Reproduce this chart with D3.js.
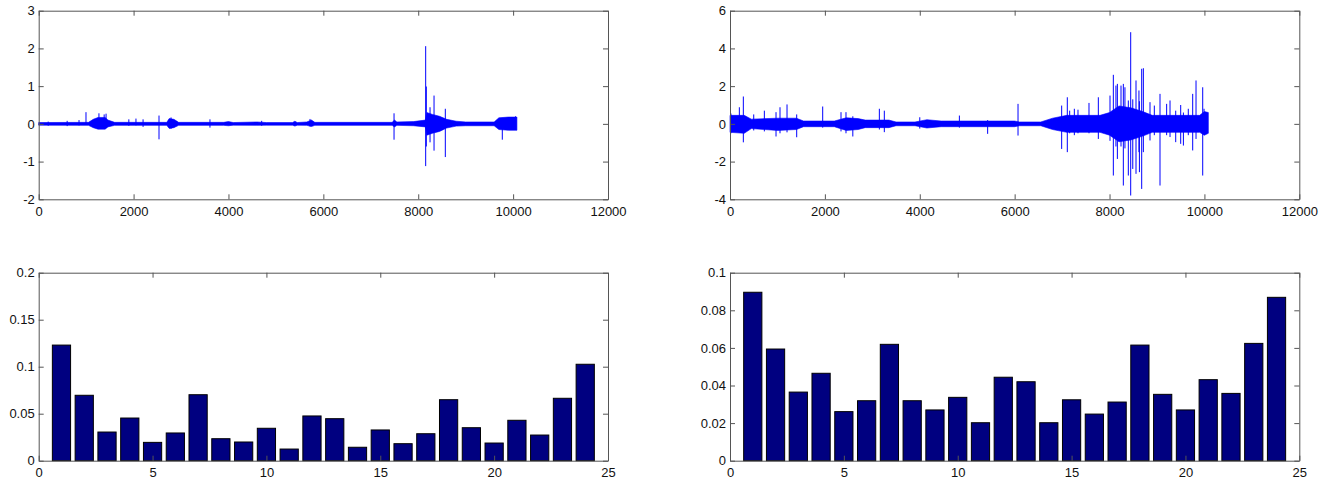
<!DOCTYPE html>
<html>
<head>
<meta charset="utf-8">
<script src="https://cdn.jsdelivr.net/npm/d3@7"></script>
<style>
  body { margin: 0; background: #fff; }
  svg { display: block; }
  .axis text { font: 13px "Liberation Sans", Arial, sans-serif; fill: #111; }
  .axis path, .axis line { stroke: #555; }
</style>
</head>
<body>
<svg id="chart" width="1330" height="481"></svg>
<script>
// ---- data ----

// envelope of the dense noise: [sample, high, low]
const envLeft = [
  [0, 0.035, -0.035], [1050, 0.04, -0.04], [1150, 0.12, -0.1], [1250, 0.17, -0.14],
  [1400, 0.17, -0.14], [1460, 0.1, -0.08], [1600, 0.04, -0.04], [2700, 0.04, -0.04],
  [2750, 0.14, -0.12], [2850, 0.12, -0.1], [2950, 0.04, -0.04], [3900, 0.04, -0.04],
  [4000, 0.06, -0.05], [4100, 0.035, -0.035], [4600, 0.05, -0.04], [4800, 0.035, -0.035],
  [5350, 0.035, -0.035], [5400, 0.07, -0.06], [5450, 0.035, -0.035], [5650, 0.05, -0.04],
  [5750, 0.1, -0.07], [5820, 0.04, -0.04], [7450, 0.04, -0.04], [7500, 0.1, -0.08],
  [7550, 0.05, -0.04], [7900, 0.06, -0.05], [8150, 0.1, -0.08], [8180, 0.3, -0.3],
  [8300, 0.25, -0.25], [8450, 0.2, -0.2], [8600, 0.12, -0.11], [8800, 0.07, -0.06],
  [9000, 0.05, -0.05], [9600, 0.05, -0.05], [9700, 0.16, -0.15], [9900, 0.18, -0.17],
  [10080, 0.18, -0.17]
];
const envRight = [
  [0, 0.45, -0.45], [300, 0.45, -0.5], [450, 0.25, -0.25], [1000, 0.3, -0.35],
  [1400, 0.3, -0.3], [1550, 0.15, -0.15], [2200, 0.15, -0.15], [2450, 0.32, -0.35],
  [2700, 0.28, -0.3], [2850, 0.2, -0.2], [3350, 0.2, -0.2], [3500, 0.1, -0.1],
  [3900, 0.1, -0.1], [4150, 0.22, -0.22], [4450, 0.15, -0.15], [6000, 0.15, -0.15],
  [6100, 0.1, -0.1], [6550, 0.1, -0.1], [6800, 0.3, -0.3], [7100, 0.45, -0.45],
  [7800, 0.45, -0.45], [8000, 0.6, -0.6], [8200, 0.95, -0.95], [8450, 0.85, -0.85],
  [8700, 0.65, -0.65], [8900, 0.45, -0.45], [9500, 0.45, -0.45], [9900, 0.45, -0.45],
  [10000, 0.65, -0.6], [10083, 0.6, -0.5]
];

// single spikes: [sample, high, low]
const spikesLeft = [
  [200, 0.06, -0.05], [600, 0.08, -0.06], [850, 0.1, -0.04], [997, 0.31, -0.03],
  [1270, 0.28, -0.1], [1380, 0.25, -0.12], [1420, 0.27, -0.08], [1900, 0.12, -0.05],
  [2050, 0.14, -0.04], [2200, 0.12, -0.08], [2536, 0.22, -0.41], [2790, 0.17, -0.13],
  [3610, 0.12, -0.1], [4700, 0.08, -0.05], [5719, 0.13, -0.07], [7490, 0.28, -0.42],
  [8157, 2.06, -1.12], [8170, 0.99, -0.6], [8249, 0.44, -0.49], [8333, 0.75, -0.71],
  [8571, 0.4, -0.88], [9772, 0.15, -0.42], [10050, 0.2, -0.15]
];
const spikesRight = [
  [20, 0.55, -0.5], [197, 0.88, -0.4], [281, 1.45, -0.98], [500, 0.5, -0.35],
  [724, 0.7, -0.4], [970, 0.62, -0.67], [1054, 0.88, -0.5], [1202, 1.03, -0.45],
  [1406, 0.5, -0.71], [1954, 0.92, -0.2], [2340, 0.62, -0.4], [2445, 0.62, -0.5],
  [2589, 0.4, -0.67], [3148, 0.8, -0.3], [3253, 0.7, -0.44], [4000, 0.35, -0.25],
  [4835, 0.44, -0.2], [5431, 0.2, -0.53], [6071, 1.06, -0.62], [6991, 0.97, -1.33],
  [7110, 1.41, -1.5], [7160, 0.7, -0.5], [7258, 0.8, -0.6], [7335, 0.75, -0.5],
  [7567, 1.11, -0.5], [7764, 1.41, -0.8], [8010, 1.5, -0.9], [8080, 2.6, -2.74],
  [8135, 2.03, -1.2], [8165, 2.12, -1.86], [8242, 2.03, -1.2], [8291, 2.12, -3.27],
  [8325, 1.94, -1.3], [8396, 1.24, -2.74], [8446, 4.86, -3.8], [8490, 1.3, -2.39],
  [8558, 2.3, -2.65], [8620, 1.77, -1.5], [8630, 1.2, -2.56], [8678, 2.92, -3.45],
  [8713, 2.95, -1.5], [8853, 1.15, -0.88], [8944, 0.97, -0.6], [9064, 1.59, -3.27],
  [9204, 1.06, -0.6], [9275, 1.24, -0.7], [9395, 0.7, -0.97], [9500, 1.0, -1.06],
  [9557, 0.6, -1.15], [9660, 0.8, -0.6], [9753, 1.59, -1.41], [9823, 2.3, -0.8],
  [9964, 1.94, -2.74], [9992, 0.8, -0.6]
];

// bar charts: 24 bins
const bins = d3.range(1, 25);
const barsLeft = [0.123, 0.0696, 0.0305, 0.0454, 0.0195, 0.0295, 0.0702, 0.0234,
  0.0199, 0.0345, 0.0124, 0.0476, 0.0447, 0.0143, 0.0327, 0.0181,
  0.0287, 0.0649, 0.0351, 0.0188, 0.043, 0.0273, 0.0664, 0.1026];
const barsRight = [0.0896, 0.0594, 0.0365, 0.0465, 0.0261, 0.0319, 0.0619, 0.0319,
  0.027, 0.0337, 0.0202, 0.0444, 0.042, 0.0202, 0.0324, 0.0248,
  0.0312, 0.0615, 0.0353, 0.027, 0.0431, 0.0358, 0.0624, 0.0869];

// ticks
const sigXTicks = [0, 2000, 4000, 6000, 8000, 10000, 12000];
const leftYTicks = [-2, -1, 0, 1, 2, 3];
const rightYTicks = [-4, -2, 0, 2, 4, 6];
const barXTicks = [0, 5, 10, 15, 20, 25];
const barLeftYTicks = [0, 0.05, 0.1, 0.15, 0.2];
const barLeftYLabels = ['0', '0.05', '0.1', '0.15', '0.2'];
const barRightYTicks = [0, 0.02, 0.04, 0.06, 0.08, 0.1];
const barRightYLabels = ['0', '0.02', '0.04', '0.06', '0.08', '0.1'];

// ---- layout ----
const svg = d3.select('#chart');
const cols = [[38.7, 608], [730, 1299.3]];
const rows = [[10.7, 199.3], [272.7, 460.7]];
const blue = '#0000ff';
const navy = '#000080';
const plain = d => String(d); // hyphen minus, like the original

function frame(g, x, y, xTicks, yTicks, yLabels) {
  const [x0, x1] = x.range();
  const [y0, y1] = y.range();
  const fmtY = yLabels ? (d, i) => yLabels[i] : plain;

  g.append('g').attr('class', 'axis')
    .attr('transform', `translate(0,${y0})`)
    .call(d3.axisBottom(x).tickValues(xTicks).tickFormat(plain)
      .tickSize(-5).tickSizeOuter(0).tickPadding(7));
  g.append('g').attr('class', 'axis')
    .attr('transform', `translate(0,${y1})`)
    .call(d3.axisTop(x).tickValues(xTicks).tickFormat('')
      .tickSize(-5).tickSizeOuter(0));
  g.append('g').attr('class', 'axis')
    .attr('transform', `translate(${x0},0)`)
    .call(d3.axisLeft(y).tickValues(yTicks).tickFormat(fmtY)
      .tickSize(-5).tickSizeOuter(0).tickPadding(4));
  g.append('g').attr('class', 'axis')
    .attr('transform', `translate(${x1},0)`)
    .call(d3.axisRight(y).tickValues(yTicks).tickFormat('')
      .tickSize(-5).tickSizeOuter(0));
}

function signalPanel(col, row, env, spikes, yDomain, yTicks) {
  const x = d3.scaleLinear().domain([0, 12000]).range(cols[col]);
  const y = d3.scaleLinear().domain(yDomain).range([rows[row][1], rows[row][0]]);
  const g = svg.append('g');

  const band = d3.area()
    .x(d => x(d[0]))
    .y0(d => y(d[2]))
    .y1(d => y(d[1]));

  g.append('path')
    .attr('d', band(env))
    .attr('fill', blue)
    .attr('stroke', blue)
    .attr('stroke-width', 0.6);

  g.selectAll('.spike').data(spikes).join('line')
    .attr('class', 'spike')
    .attr('x1', d => x(d[0])).attr('x2', d => x(d[0]))
    .attr('y1', d => y(d[1])).attr('y2', d => y(d[2]))
    .attr('stroke', blue).attr('stroke-width', 1);

  frame(g, x, y, sigXTicks, yTicks);
}

function barPanel(col, row, values, yDomain, yTicks, yLabels) {
  const x = d3.scaleLinear().domain([0, 25]).range(cols[col]);
  const y = d3.scaleLinear().domain(yDomain).range([rows[row][1], rows[row][0]]);
  const g = svg.append('g');
  const w = x(0.8) - x(0);

  g.selectAll('.bar').data(bins).join('rect')
    .attr('class', 'bar')
    .attr('x', d => x(d) - w / 2).attr('width', w)
    .attr('y', (d, i) => y(values[i])).attr('height', (d, i) => y(0) - y(values[i]))
    .attr('fill', navy).attr('stroke', '#000').attr('stroke-width', 1);

  frame(g, x, y, barXTicks, yTicks, yLabels);
}

signalPanel(0, 0, envLeft, spikesLeft, [-2, 3], leftYTicks);
signalPanel(1, 0, envRight, spikesRight, [-4, 6], rightYTicks);
barPanel(0, 1, barsLeft, [0, 0.2], barLeftYTicks, barLeftYLabels);
barPanel(1, 1, barsRight, [0, 0.1], barRightYTicks, barRightYLabels);
</script>
</body>
</html>
